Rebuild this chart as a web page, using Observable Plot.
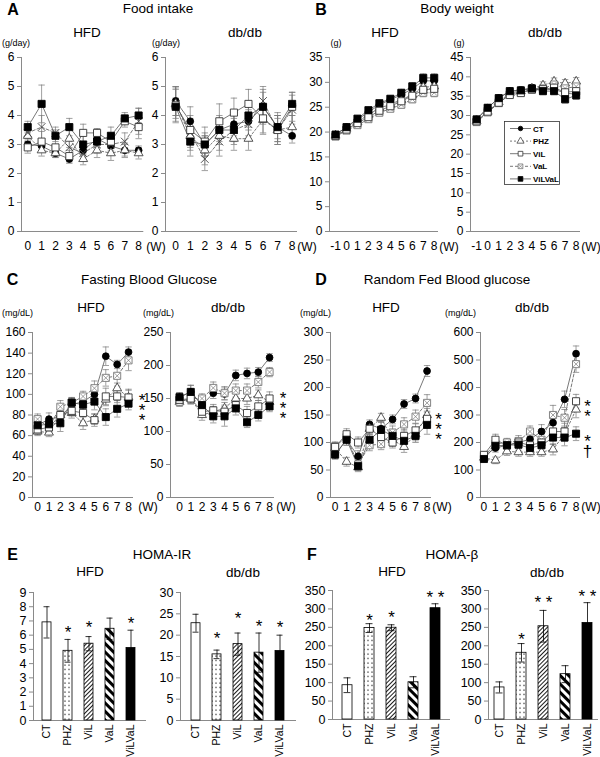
<!DOCTYPE html>
<html><head><meta charset="utf-8">
<script src="https://cdn.jsdelivr.net/npm/d3@7"></script>
<script src="https://cdn.jsdelivr.net/npm/@observablehq/plot@0.6"></script>
<style>
body{margin:0;background:#fff;}
#fig{position:relative;width:600px;height:757px;font-family:Arial,"Liberation Sans",Helvetica,sans-serif;overflow:hidden;background:#fff}
.lbl{position:absolute;white-space:nowrap;line-height:1;color:#000}
#fig svg text{fill:#000}
</style></head>
<body>
<svg width="0" height="0" style="position:absolute"><defs>
<pattern id="pDots" width="4" height="4.5" patternUnits="userSpaceOnUse"><rect width="4" height="4.5" fill="#fff"/><circle cx="2" cy="2" r="0.7" fill="#000"/></pattern>
<pattern id="pThin" width="3" height="3" patternUnits="userSpaceOnUse" patternTransform="rotate(45)"><rect width="3" height="3" fill="#fff"/><line x1="0.5" y1="0" x2="0.5" y2="3" stroke="#000" stroke-width="0.9"/></pattern>
<pattern id="pThick" width="6" height="6" patternUnits="userSpaceOnUse" patternTransform="rotate(-45)"><rect width="6" height="6" fill="#fff"/><rect x="0" y="0" width="3" height="6" fill="#000"/></pattern>
</defs></svg>
<div id="fig"></div>
<script>
// ---------------- DATA ----------------
const groups = ["CT", "PHZ", "ViL", "VaL", "ViLVaL"];
const weeks = [0, 1, 2, 3, 4, 5, 6, 7, 8];
const weeksBW = [-1, 0, 1, 2, 3, 4, 5, 6, 7, 8];

// A: Food intake (g/day)
const foodHFD = {
  CT:     [3.0, 2.95, 2.7, 2.5, 2.8, 3.2, 2.95, 2.8, 2.8],
  PHZ:    [3.3, 2.8, 2.7, 3.2, 2.5, 2.8, 2.7, 2.8, 2.7],
  ViL:    [2.9, 3.1, 2.9, 2.6, 3.4, 3.4, 3.1, 3.8, 3.6],
  VaL:    [3.4, 3.6, 3.4, 2.9, 2.7, 3.0, 3.0, 3.1, 3.8],
  ViLVaL: [3.6, 4.4, 3.3, 3.6, 3.0, 3.1, 3.3, 3.9, 4.0]
};
const foodHFD_sem = {
  CT:     [0.15, 0.2, 0.15, 0.15, 0.2, 0.2, 0.2, 0.2, 0.15],
  PHZ:    [0.2, 0.2, 0.15, 0.3, 0.2, 0.25, 0.25, 0.25, 0.2],
  ViL:    [0.2, 0.35, 0.3, 0.2, 0.3, 0.15, 0.3, 0.2, 0.4],
  VaL:    [0.2, 0.4, 0.2, 0.3, 0.25, 0.3, 0.3, 0.3, 0.45],
  ViLVaL: [0.2, 0.65, 0.2, 0.3, 0.35, 0.2, 0.3, 0.2, 0.25]
};
const foodDB = {
  CT:     [4.5, 3.8, 3.0, 3.5, 3.7, 3.8, 4.3, 3.6, 3.3],
  PHZ:    [4.4, 3.3, 2.8, 3.3, 3.2, 3.2, 3.85, 3.5, 3.6],
  ViL:    [4.35, 3.5, 3.1, 3.8, 4.1, 4.4, 3.9, 3.5, 4.3],
  VaL:    [4.4, 3.4, 2.5, 3.1, 3.5, 3.7, 4.5, 3.5, 4.2],
  ViLVaL: [4.3, 3.1, 3.0, 3.5, 3.5, 4.0, 4.3, 3.6, 4.4]
};
const foodDB_sem = {
  CT:     [0.5, 0.5, 0.4, 0.4, 0.4, 0.5, 0.5, 0.4, 0.25],
  PHZ:    [0.5, 0.5, 0.5, 0.5, 0.4, 0.4, 0.5, 0.4, 0.4],
  ViL:    [0.6, 0.5, 0.5, 0.6, 0.5, 0.5, 0.5, 0.5, 0.5],
  VaL:    [0.6, 0.5, 0.4, 0.5, 0.4, 0.5, 0.5, 0.5, 0.5],
  ViLVaL: [0.3, 0.5, 0.3, 0.5, 0.5, 0.5, 0.6, 0.5, 0.4]
};

// B: Body weight (g)
const bwHFD = {
  CT:     [19.5, 21.0, 22.5, 24.0, 25.5, 26.5, 27.5, 28.7, 30.3, 30.3],
  PHZ:    [19.3, 20.7, 22.0, 23.5, 24.8, 25.6, 26.5, 27.5, 29.0, 29.2],
  ViL:    [19.2, 20.5, 21.8, 23.0, 24.3, 25.2, 26.2, 27.3, 28.5, 28.7],
  VaL:    [19.1, 20.3, 21.4, 22.6, 23.9, 24.7, 25.5, 26.6, 27.9, 27.9],
  ViLVaL: [19.5, 21.0, 22.7, 24.4, 25.8, 26.7, 27.9, 29.2, 30.9, 30.9]
};
const bwHFD_sem = {
  CT:     [0.5, 0.5, 0.5, 0.6, 0.6, 0.6, 0.7, 0.7, 0.8, 0.8],
  PHZ:    [0.5, 0.5, 0.5, 0.6, 0.6, 0.6, 0.7, 0.7, 0.8, 0.8],
  ViL:    [0.5, 0.5, 0.5, 0.6, 0.6, 0.6, 0.7, 0.7, 0.8, 0.8],
  VaL:    [0.5, 0.5, 0.5, 0.6, 0.6, 0.6, 0.7, 0.7, 0.8, 0.8],
  ViLVaL: [0.5, 0.5, 0.5, 0.6, 0.6, 0.6, 0.7, 0.7, 0.8, 0.8]
};
const bwDB = {
  CT:     [29.0, 32.0, 34.5, 36.3, 36.6, 37.2, 36.6, 36.8, 35.8, 35.5],
  PHZ:    [28.5, 31.0, 33.5, 35.8, 36.3, 37.0, 37.8, 38.8, 38.3, 38.8],
  ViL:    [28.5, 31.0, 33.3, 35.3, 35.8, 36.7, 36.8, 37.2, 36.0, 36.3],
  VaL:    [28.3, 30.8, 33.2, 35.5, 36.0, 36.7, 37.0, 38.0, 37.0, 37.5],
  ViLVaL: [29.0, 32.0, 34.5, 36.3, 36.5, 37.0, 36.3, 36.3, 34.2, 35.2]
};
const bwDB_sem = {
  CT:     [0.6, 0.7, 0.7, 0.8, 0.8, 0.8, 0.9, 0.9, 1.0, 1.0],
  PHZ:    [0.6, 0.7, 0.7, 0.8, 0.8, 0.8, 0.9, 0.9, 1.0, 1.0],
  ViL:    [0.6, 0.7, 0.7, 0.8, 0.8, 0.8, 0.9, 0.9, 1.0, 1.0],
  VaL:    [0.6, 0.7, 0.7, 0.8, 0.8, 0.8, 0.9, 0.9, 1.0, 1.0],
  ViLVaL: [0.6, 0.7, 0.7, 0.8, 0.8, 0.8, 0.9, 0.9, 1.0, 1.0]
};

// C: Fasting blood glucose (mg/dL)
const fbgHFD = {
  CT:     [70, 76, 78, 90, 93, 100, 137, 129, 141],
  PHZ:    [64, 63, 80, 82, 72, 76, 95, 106, 97],
  ViL:    [66, 68, 80, 84, 82, 75, 98, 98, 97],
  VaL:    [76, 68, 88, 92, 98, 106, 116, 118, 133],
  ViLVaL: [70, 71, 72, 92, 90, 93, 78, 86, 91]
};
const fbgHFD_sem = {
  CT:     [5, 6, 4, 6, 6, 8, 9, 4, 5],
  PHZ:    [4, 4, 5, 5, 6, 5, 6, 5, 8],
  ViL:    [5, 4, 5, 5, 8, 6, 8, 6, 7],
  VaL:    [5, 5, 6, 5, 5, 7, 8, 10, 10],
  ViLVaL: [5, 6, 8, 5, 7, 8, 8, 8, 6]
};
const fbgDB = {
  CT:     [152, 160, 140, 158, 157, 185, 188, 190, 212],
  PHZ:    [145, 150, 125, 130, 135, 150, 150, 155, 145],
  ViL:    [148, 150, 130, 132, 130, 140, 128, 138, 150],
  VaL:    [145, 150, 150, 166, 158, 162, 162, 175, 190],
  ViLVaL: [152, 160, 140, 123, 123, 135, 114, 125, 138]
};
const fbgDB_sem = {
  CT:     [7, 10, 8, 8, 9, 8, 8, 7, 6],
  PHZ:    [7, 8, 8, 8, 9, 9, 9, 8, 9],
  ViL:    [7, 8, 8, 9, 10, 9, 10, 9, 10],
  VaL:    [6, 8, 7, 9, 10, 10, 10, 9, 7],
  ViLVaL: [7, 10, 9, 10, 15, 10, 8, 9, 8]
};

// D: Random fed blood glucose (mg/dL)
const rbgHFD = {
  CT:     [78, 105, 75, 133, 125, 142, 170, 180, 230],
  PHZ:    [90, 65, 55, 125, 145, 105, 92, 115, 150],
  ViL:    [92, 115, 100, 125, 110, 100, 112, 122, 143],
  VaL:    [93, 110, 60, 95, 97, 118, 133, 147, 172],
  ViLVaL: [78, 105, 57, 105, 123, 112, 103, 112, 132]
};
const rbgHFD_sem = {
  CT:     [8, 10, 10, 8, 12, 8, 8, 8, 10],
  PHZ:    [8, 8, 8, 10, 8, 12, 10, 12, 12],
  ViL:    [8, 10, 10, 10, 12, 10, 12, 12, 12],
  VaL:    [8, 10, 8, 10, 10, 12, 12, 12, 15],
  ViLVaL: [8, 10, 8, 12, 15, 12, 12, 12, 17]
};
const rbgDB = {
  CT:     [150, 180, 190, 200, 212, 240, 272, 357, 523],
  PHZ:    [145, 135, 168, 165, 165, 165, 175, 230, 320],
  ViL:    [155, 210, 190, 200, 190, 200, 240, 240, 350],
  VaL:    [150, 195, 200, 205, 240, 210, 300, 290, 485],
  ViLVaL: [140, 188, 190, 192, 180, 190, 218, 218, 232]
};
const rbgDB_sem = {
  CT:     [10, 15, 15, 15, 20, 25, 35, 30, 28],
  PHZ:    [10, 12, 15, 15, 15, 15, 20, 25, 30],
  ViL:    [10, 20, 15, 15, 20, 20, 30, 30, 25],
  VaL:    [10, 15, 15, 20, 20, 25, 35, 30, 30],
  ViLVaL: [10, 15, 15, 20, 20, 25, 25, 30, 25]
};

// E / F: HOMA bars (order: CT, PHZ, ViL, VaL, ViLVaL)
const irHFD = [6.9, 4.9, 5.4, 6.45, 5.1];
const irHFD_sem = [1.1, 0.8, 0.5, 0.75, 1.25];
const irHFD_sig = ["", "*", "*", "", "*"];
const irHFD_sigY = [null, 6.5, 6.8, null, 7.1];
const irDB = [22.8, 15.5, 17.9, 15.9, 16.3];
const irDB_sem = [2.1, 1.0, 2.6, 4.6, 3.7];
const irDB_sig = ["", "*", "*", "*", "*"];
const irDB_sigY = [null, 20.1, 24.9, 23.0, 22.8];
const hbHFD = [93, 248, 249, 101, 302];
const hbHFD_sem = [20, 12, 8, 15, 12];
const hbHFD_sig = ["", "*", "*", "", "* *"];
const hbHFD_sigY = [null, 278, 287, null, 341];
const hbDB = [87, 181, 253, 123, 262];
const hbDB_sem = [15, 25, 43, 23, 55];
const hbDB_sig = ["", "*", "* *", "", "* *"];
const hbDB_sigY = [null, 228, 327, null, 345];

// significance marks beside the line panels (stacked, centred at y)
const fbgHFD_sig = [{y: 86, t: "*\n*\n*"}];
const fbgDB_sig = [{y: 137, t: "*\n*\n*"}];
const rbgHFD_sig = [{y: 126, t: "*\n*\n*"}];
const rbgDB_sig = [{y: 318, t: "*\n*"}, {y: 190, t: "*\n†"}];

// ---------------- STYLES ----------------
const FONT = "Arial, 'Liberation Sans', Helvetica, sans-serif";
const styles = {
  CT:     {symbol: "circle",   r: 3.4, fill: "#000", stroke: "#000", dash: null},
  PHZ:    {symbol: "triangle", r: 3.3, fill: "#fff", stroke: "#444", dash: "2,2"},
  ViL:    {symbol: "square",   r: 4.0, fill: "#fff", stroke: "#333", dash: null},
  VaL:    {symbol: "square",   r: 4.0, fill: "#fff", stroke: "#777", dash: "3,2"},
  ViLVaL: {symbol: "square",   r: 4.0, fill: "#000", stroke: "#000", dash: null}
};
const drawOrder = ["CT", "PHZ", "VaL", "ViL", "ViLVaL"];
const barFill = {CT: "#fff", PHZ: "url(#pDots)", ViL: "url(#pThin)", VaL: "url(#pThick)", ViLVaL: "#000"};

const fig = document.getElementById("fig");

function lab(text, x, y, o = {}) {
  const d = document.createElement("div");
  d.className = "lbl";
  d.textContent = text;
  d.style.left = x + "px";
  d.style.top = y + "px";
  d.style.fontSize = (o.size || 13.5) + "px";
  if (o.bold) d.style.fontWeight = "bold";
  const ax = o.anchor === "start" ? "0" : o.anchor === "end" ? "-100%" : "-50%";
  d.style.transform = `translate(${ax},-50%)`;
  fig.appendChild(d);
}

function linePanel(c) {
  const mL = 34, mR = 30, mT = 8, mB = 26;
  const fw = c.x1 - c.x0, fh = c.y1 - c.y0;
  const pxPerX = fw / (c.xDomain[1] - c.xDomain[0]);
  const cap = 3.2 / pxPerX;
  const rows = groups.flatMap(g => c.xs.map((x, i) => ({g, x, y: c.means[g][i], e: c.sems[g][i]})));
  const marks = [];
  for (const g of groups) {
    const st = styles[g];
    const o = {x: "x", y: "y", stroke: "#555", strokeWidth: 0.8};
    if (st.dash) o.strokeDasharray = st.dash;
    marks.push(Plot.line(rows.filter(d => d.g === g), o));
  }
  marks.push(Plot.ruleX(rows, {x: "x", y1: d => d.y - d.e, y2: d => d.y + d.e, stroke: "#777", strokeWidth: 0.7}));
  marks.push(Plot.link(rows, {x1: d => d.x - cap, x2: d => d.x + cap, y1: d => d.y + d.e, y2: d => d.y + d.e, stroke: "#777", strokeWidth: 0.7}));
  marks.push(Plot.link(rows, {x1: d => d.x - cap, x2: d => d.x + cap, y1: d => d.y - d.e, y2: d => d.y - d.e, stroke: "#777", strokeWidth: 0.7}));
  for (const g of drawOrder) {
    const st = styles[g];
    const data = rows.filter(d => d.g === g);
    if (g === "VaL" && c.valTimesOnly) {
      marks.push(Plot.dot(data, {x: "x", y: "y", symbol: "times", r: 3.6, stroke: "#444", strokeWidth: 0.9}));
      continue;
    }
    marks.push(Plot.dot(data, {x: "x", y: "y", symbol: st.symbol, r: st.r, fill: st.fill, stroke: st.stroke, strokeWidth: 0.9}));
    if (g === "VaL") marks.push(Plot.dot(data, {x: "x", y: "y", symbol: "times", r: 2.7, stroke: "#777", strokeWidth: 0.7}));
  }
  if (c.sig) {
    marks.push(Plot.text(c.sig, {x: () => c.sigX, y: "y", text: "t", fontSize: 17, lineHeight: 0.58, dy: 4, fill: "#000"}));
  }
  const svg = Plot.plot({
    width: fw + mL + mR, height: fh + mT + mB,
    marginLeft: mL, marginRight: mR, marginTop: mT, marginBottom: mB,
    style: {position: "absolute", left: (c.x0 - mL) + "px", top: (c.y0 - mT) + "px", background: "none",
            overflow: "visible", maxWidth: "none", fontFamily: FONT, fontSize: "12px", color: "#8a8a8a"},
    x: {domain: c.xDomain, ticks: c.xs, tickSize: 0, tickPadding: c.xPad, line: true, label: null, tickFormat: d => String(d)},
    y: {domain: c.yDomain, ticks: c.yTicks, tickSize: 4, tickPadding: 3, line: true, label: null, tickFormat: d => String(d)},
    marks
  });
  fig.appendChild(svg);
}

function barPanel(c) {
  const mL = 34, mR = 4, mT = 10, mB = 40;
  const fw = c.x1 - c.x0, fh = c.y1 - c.y0;
  const rows = groups.map((g, i) => ({g, v: c.means[i], e: c.sems[i], s: c.sig[i], sy: c.sigY[i]}));
  const marks = [
    Plot.barY(rows, {x: "g", y: "v", fill: d => barFill[d.g], stroke: "#000", strokeWidth: 0.8}),
    Plot.ruleX(rows, {x: "g", y1: d => d.v - d.e, y2: d => d.v + d.e, stroke: "#000", strokeWidth: 0.8}),
    Plot.tickY(rows, {x: "g", y: d => d.v + d.e, stroke: "#000", strokeWidth: 0.8, insetLeft: 1.5, insetRight: 1.5}),
    Plot.tickY(rows, {x: "g", y: d => d.v - d.e, stroke: "#000", strokeWidth: 0.8, insetLeft: 1.5, insetRight: 1.5}),
    Plot.text(rows.filter(d => d.s), {x: "g", y: "sy", text: "s", fontSize: 17, dy: 4, fill: "#000"})
  ];
  const svg = Plot.plot({
    width: fw + mL + mR, height: fh + mT + mB,
    marginLeft: mL, marginRight: mR, marginTop: mT, marginBottom: mB,
    style: {position: "absolute", left: (c.x0 - mL) + "px", top: (c.y0 - mT) + "px", background: "none",
            overflow: "visible", maxWidth: "none", fontFamily: FONT, fontSize: "12.5px", color: "#8a8a8a"},
    color: {type: "identity"},
    x: {domain: groups, paddingInner: 0.55, paddingOuter: c.po, tickSize: 0, tickPadding: 4, tickRotate: -90, line: true, label: null},
    y: {domain: c.yDomain, ticks: c.yTicks, tickSize: 4, tickPadding: 3, line: true, label: null, tickFormat: d => String(d)},
    marks
  });
  d3.select(svg).selectAll('g[aria-label="x-axis tick label"] text').style("font-size", "10.5px");
  fig.appendChild(svg);
}

// ---------------- PANELS ----------------
const yA = [0, 1, 2, 3, 4, 5, 6];
linePanel({x0: 20.7, x1: 142, y0: 57, y1: 231, xDomain: [-0.45, 8.3], xs: weeks, yDomain: [0, 6], yTicks: yA,
  means: foodHFD, sems: foodHFD_sem, valTimesOnly: true, xPad: 10});
linePanel({x0: 165, x1: 296, y0: 57, y1: 231, xDomain: [-0.7, 8.3], xs: weeks, yDomain: [0, 6], yTicks: yA,
  means: foodDB, sems: foodDB_sem, valTimesOnly: true, xPad: 10});
linePanel({x0: 329, x1: 437, y0: 57, y1: 231, xDomain: [-1.55, 8.3], xs: weeksBW, yDomain: [0, 35], yTicks: d3.range(0, 36, 5),
  means: bwHFD, sems: bwHFD_sem, xPad: 10});
linePanel({x0: 470, x1: 579, y0: 57, y1: 231, xDomain: [-1.55, 8.3], xs: weeksBW, yDomain: [0, 45], yTicks: d3.range(0, 46, 5),
  means: bwDB, sems: bwDB_sem, xPad: 10});
linePanel({x0: 32, x1: 132, y0: 332, y1: 497, xDomain: [-0.45, 8.35], xs: weeks, yDomain: [0, 160], yTicks: d3.range(0, 161, 20),
  means: fbgHFD, sems: fbgHFD_sem, xPad: 5, sig: fbgHFD_sig, sigX: 9.2});
linePanel({x0: 170, x1: 273, y0: 332, y1: 497, xDomain: [-0.8, 8.35], xs: weeks, yDomain: [0, 250], yTicks: d3.range(0, 251, 50),
  means: fbgDB, sems: fbgDB_sem, xPad: 5, sig: fbgDB_sig, sigX: 9.2});
linePanel({x0: 330, x1: 430, y0: 332, y1: 497, xDomain: [-0.4, 8.3], xs: weeks, yDomain: [0, 300], yTicks: d3.range(0, 301, 50),
  means: rbgHFD, sems: rbgHFD_sem, xPad: 5, sig: rbgHFD_sig, sigX: 9.0});
linePanel({x0: 480, x1: 579, y0: 332, y1: 497, xDomain: [-0.3, 8.3], xs: weeks, yDomain: [0, 600], yTicks: d3.range(0, 601, 100),
  means: rbgDB, sems: rbgDB_sem, xPad: 5, sig: rbgDB_sig, sigX: 9.0});

barPanel({x0: 33, x1: 145, y0: 592, y1: 720, yDomain: [0, 9], yTicks: d3.range(0, 10, 1), po: 0.4,
  means: irHFD, sems: irHFD_sem, sig: irHFD_sig, sigY: irHFD_sigY});
barPanel({x0: 180, x1: 295, y0: 592, y1: 720, yDomain: [0, 30], yTicks: d3.range(0, 31, 5), po: 0.4,
  means: irDB, sems: irDB_sem, sig: irDB_sig, sigY: irDB_sigY});
barPanel({x0: 332, x1: 449, y0: 590, y1: 719, yDomain: [0, 350], yTicks: d3.range(0, 351, 50), po: 0.4,
  means: hbHFD, sems: hbHFD_sem, sig: hbHFD_sig, sigY: hbHFD_sigY});
barPanel({x0: 488, x1: 597, y0: 590, y1: 719, yDomain: [0, 350], yTicks: d3.range(0, 351, 50), po: 0.25,
  means: hbDB, sems: hbDB_sem, sig: hbDB_sig, sigY: hbDB_sigY});

// ---------------- LEGEND ----------------
(function legend() {
  const svg = d3.create("svg").attr("width", 57).attr("height", 65)
    .style("position", "absolute").style("left", "504px").style("top", "121px");
  svg.append("rect").attr("x", 0.5).attr("y", 0.5).attr("width", 55).attr("height", 63)
    .attr("fill", "#fff").attr("stroke", "#333").attr("stroke-width", 0.8);
  groups.forEach((g, i) => {
    const st = styles[g];
    const y = 7.5 + i * 12.6;
    const ln = svg.append("line").attr("x1", 6).attr("x2", 27).attr("y1", y).attr("y2", y)
      .attr("stroke", "#555").attr("stroke-width", 0.8);
    if (st.dash) ln.attr("stroke-dasharray", st.dash);
    const sym = st.symbol === "circle" ? d3.symbolCircle : st.symbol === "triangle" ? d3.symbolTriangle : d3.symbolSquare;
    svg.append("path").attr("transform", `translate(16.5,${y})`).attr("d", d3.symbol(sym, g === "CT" ? 16 : 22)())
      .attr("fill", st.fill).attr("stroke", st.stroke).attr("stroke-width", 0.8);
    if (g === "VaL") {
      svg.append("path").attr("d", `M14.3,${y - 2.2}L18.7,${y + 2.2}M18.7,${y - 2.2}L14.3,${y + 2.2}`)
        .attr("stroke", "#777").attr("stroke-width", 0.6);
    }
    svg.append("text").attr("x", 29).attr("y", y + 3).text(g)
      .attr("font-size", 8).attr("font-weight", "bold").attr("font-family", FONT);
  });
  fig.appendChild(svg.node());
})();

// ---------------- TEXT ----------------
lab("A", 13, 10, {size: 16, bold: true});
lab("Food intake", 158, 9);
lab("HFD", 87, 33); lab("db/db", 245, 33);
lab("(g/day)", 2, 43, {size: 9, anchor: "start"}); lab("(g/day)", 152, 43, {size: 9, anchor: "start"});
lab("(W)", 156, 247, {size: 12}); lab("(W)", 307, 247, {size: 12});

lab("B", 321, 10, {size: 16, bold: true});
lab("Body weight", 457, 9);
lab("HFD", 385, 33); lab("db/db", 545, 33);
lab("(g)", 336, 43, {size: 9}); lab("(g)", 459, 43, {size: 9});
lab("(W)", 449, 247, {size: 12}); lab("(W)", 591, 247, {size: 12});

lab("C", 12.5, 280, {size: 16, bold: true});
lab("Fasting Blood Glucose", 149, 280);
lab("HFD", 91, 308); lab("db/db", 228, 308);
lab("(mg/dL)", 2, 313, {size: 9, anchor: "start"}); lab("(mg/dL)", 143, 313, {size: 9, anchor: "start"});
lab("(W)", 148, 507, {size: 12}); lab("(W)", 286, 507, {size: 12});

lab("D", 321, 280, {size: 16, bold: true});
lab("Random Fed Blood glucose", 447, 280);
lab("HFD", 386, 308); lab("db/db", 532, 308);
lab("(mg/dL)", 300, 313, {size: 9, anchor: "start"}); lab("(mg/dL)", 445, 313, {size: 9, anchor: "start"});
lab("(W)", 442, 507, {size: 12}); lab("(W)", 591, 507, {size: 12});

lab("E", 12.5, 555, {size: 16, bold: true});
lab("HOMA-IR", 162, 555);
lab("HFD", 90, 572); lab("db/db", 243, 573);

lab("F", 312, 555, {size: 16, bold: true});
lab("HOMA-β", 452, 555);
lab("HFD", 392, 572); lab("db/db", 547, 573);
</script>
</body></html>
